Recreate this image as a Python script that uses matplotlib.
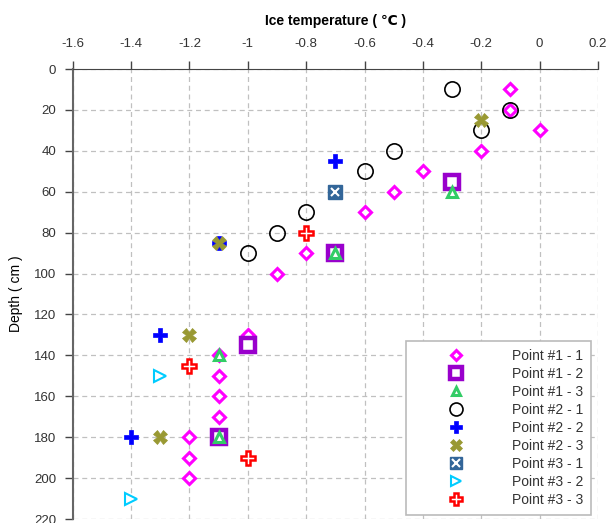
import matplotlib
matplotlib.use("Agg")
import matplotlib.pyplot as plt
import numpy as np

plt.rcParams['font.family'] = ['Liberation Sans', 'DejaVu Sans']

# temperature (degC) / depth (cm) for each probe
p11_t = [-0.1, -0.1, 0.0, -0.2, -0.4, -0.5, -0.6, -0.8, -0.9, -1.0, -1.1, -1.1, -1.1, -1.1, -1.2, -1.2, -1.2]
p11_d = [10, 20, 30, 40, 50, 60, 70, 90, 100, 130, 140, 150, 160, 170, 180, 190, 200]
p12_t = [-0.3, -0.7, -1.0, -1.1]
p12_d = [55, 90, 135, 180]
p13_t = [-0.3, -0.7, -1.1, -1.1]
p13_d = [60, 90, 140, 180]
p21_t = [-0.3, -0.1, -0.2, -0.5, -0.6, -0.8, -0.9, -1.0]
p21_d = [10, 20, 30, 40, 50, 70, 80, 90]
p22_t = [-0.7, -1.1, -1.3, -1.4]
p22_d = [45, 85, 130, 180]
p23_t = [-0.2, -1.1, -1.2, -1.3]
p23_d = [25, 85, 130, 180]
p31_t = [-0.7]
p31_d = [60]
p32_t = [-1.3, -1.4]
p32_d = [150, 210]
p33_t = [-0.8, -1.2, -1.0]
p33_d = [80, 145, 190]

x_ticks = [-1.6, -1.4, -1.2, -1.0, -0.8, -0.6, -0.4, -0.2, 0.0, 0.2]
y_ticks = [0, 20, 40, 60, 80, 100, 120, 140, 160, 180, 200, 220]

fig = plt.figure(figsize=(6.08, 5.23), dpi=100)
ax = fig.add_axes([0.1196, 0.0076, 0.8640, 0.8604])

h11, = ax.plot(p11_t, p11_d, ls='none', marker='D', ms=6.5, mfc='white', mec='#FF00FF', mew=2.2)
h12, = ax.plot(p12_t, p12_d, ls='none', marker='s', ms=10, mfc='white', mec='#9900CC', mew=3.2)
h13, = ax.plot(p13_t, p13_d, ls='none', marker='^', ms=7.5, mfc='white', mec='#33CC66', mew=2.2)
h21, = ax.plot(p21_t, p21_d, ls='none', marker='o', ms=11, mfc='none', mec='black', mew=1.2)
h22, = ax.plot(p22_t, p22_d, ls='none', marker='P', ms=9.5, mfc='#0000FF', mec='#0000FF', mew=0.5)
h23, = ax.plot(p23_t, p23_d, ls='none', marker='X', ms=10, mfc='#999933', mec='#999933', mew=0.5)
h31a, = ax.plot(p31_t, p31_d, ls='none', marker='s', ms=10, mfc='#336699', mec='#336699', mew=1)
h31b, = ax.plot(p31_t, p31_d, ls='none', marker='x', ms=6, mec='white', mew=1.5)
h32, = ax.plot(p32_t, p32_d, ls='none', marker='>', ms=9, mfc='white', mec='#00CCFF', mew=1.5)
h33, = ax.plot(p33_t, p33_d, ls='none', marker='P', ms=9.5, mfc='white', mec='#FF0000', mew=1.8)

ax.set_xlim(-1.6, 0.2)
ax.set_ylim(220, 0)
ax.set_xticks(x_ticks)
ax.set_xticklabels([f"{round(v, 1):g}" for v in x_ticks])
ax.set_yticks(y_ticks)

ax.xaxis.tick_top()
ax.xaxis.set_label_position('top')
ax.set_xlabel('Ice temperature ( ℃ )', fontsize=10, fontweight='bold', labelpad=9)
ax.set_ylabel('Depth ( cm )', fontsize=10, labelpad=8)

ax.tick_params(axis='both', direction='out', length=6, width=1, colors='#444444',
               labelsize=9.5, labelcolor='#333333')
ax.tick_params(axis='x', pad=8)
ax.tick_params(axis='y', pad=6)

ax.spines['right'].set_visible(False)
ax.spines['bottom'].set_visible(False)
ax.spines['top'].set_color('#444444')
ax.spines['left'].set_color('#666666')
ax.spines['left'].set_linewidth(1.5)

ax.grid(True, color='#C0C0C0', linestyle=(0, (4, 3)), linewidth=0.9)
ax.set_axisbelow(True)
ax.set_clip_on(False)

handles = [h11, h12, h13, h21, h22, h23, (h31a, h31b), h32, h33]
labels = ['Point #1 - 1', 'Point #1 - 2', 'Point #1 - 3', 'Point #2 - 1', 'Point #2 - 2',
          'Point #2 - 3', 'Point #3 - 1', 'Point #3 - 2', 'Point #3 - 3']
leg = ax.legend(handles, labels, loc='lower right', bbox_to_anchor=(0.9867, 0.009),
                fontsize=10, handlelength=6.2, handletextpad=0.9, labelspacing=0.29,
                borderpad=0.55, borderaxespad=0, fancybox=False, framealpha=1,
                edgecolor='#BBBBBB', markerscale=0.85)
leg.get_frame().set_linewidth(1.2)
for t in leg.get_texts():
    t.set_color('#333333')

fig.savefig('out.png', dpi=100)
